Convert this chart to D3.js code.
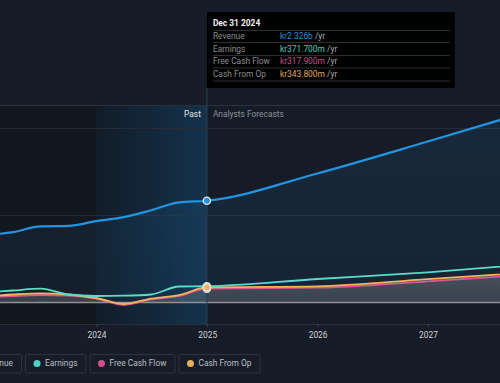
<!DOCTYPE html>
<html><head><meta charset="utf-8">
<script src="https://cdn.jsdelivr.net/npm/d3@7"></script>
<style>html,body{margin:0;padding:0;background:#171d28;}svg{display:block;font-family:Roboto,"Open Sans",sans-serif;}</style>
</head><body>
<svg id="c" width="500" height="383"></svg>
<script>
// ---- data ----
const pastDates = ["2022-12-31","2023-03-31","2023-06-30","2023-09-30","2023-12-31","2024-03-31","2024-06-30","2024-09-30","2024-12-31"];
const forecastDates = ["2024-12-31","2025-12-31","2026-12-31","2027-12-31"];
// revenue in kr billions
const revenuePast = [1.54,1.61,1.74,1.75,1.86,1.95,2.11,2.29,2.326];
const revenueForecast = [2.326,2.95,3.68,4.43];
// kr millions
const earningsPast = [229,274,315,183,149,155,183,366,371.7];
const earningsForecast = [371.7,537,690,887];
const fcfPast = [114,149,171,160,91,-57,69,149,317.9];
const fcfForecast = [317.9,339,485,650];
const cfoPast = [137,183,210,183,103,-34,91,171,343.8];
const cfoForecast = [343.8,368,535,700];
const yTickValues = [0,2,4]; // billions (gridlines)
const xTickYears = [2024,2025,2026,2027];
const legendLabels = ["Revenue","Earnings","Free Cash Flow","Cash From Op"];
const tooltipTitle = "Dec 31 2024";
const tooltipLabels = ["Revenue","Earnings","Free Cash Flow","Cash From Op"];
const tooltipValues = ["kr2.326b","kr371.700m","kr317.900m","kr343.800m"];

const colors = {rev:"#2394df", earn:"#5adccb", fcf:"#d9568f", cfo:"#f0b45c"};
const legendColors = [colors.rev,"#4fd1c5","#d04f8a","#e8b058"];
const FS = 8.4;

const parse = d3.timeParse("%Y-%m-%d");
const svg = d3.select("#c");
const W = 500, H = 383;
const plotTop = 105, plotBottom = 324;

const x = d3.scaleTime().domain([new Date(2024,0,1), new Date(2027,0,1)]).range([96.5, 428]);
const y = d3.scaleLinear().domain([0, 4]).range([302.5, 127.5]); // billions

const xNow = x(parse("2024-12-31"));
const xHi = x(new Date(2024,0,1));

const defs = svg.append("defs");
const hg = defs.append("linearGradient").attr("id","hl").attr("x1",0).attr("x2",1).attr("y1",0).attr("y2",0);
hg.append("stop").attr("offset",0).attr("stop-color","#121c28");
hg.append("stop").attr("offset",1).attr("stop-color","#14324c");
const rg = defs.append("linearGradient").attr("id","revg").attr("x1",0).attr("x2",0).attr("y1",0).attr("y2",1);
rg.append("stop").attr("offset",0).attr("stop-color",colors.rev).attr("stop-opacity",0.11);
rg.append("stop").attr("offset",1).attr("stop-color",colors.rev).attr("stop-opacity",0.06);
const gg = defs.append("linearGradient").attr("id","greyg").attr("x1",0).attr("x2",0).attr("y1",0).attr("y2",1);
gg.append("stop").attr("offset",0).attr("stop-color","#a8a4a6").attr("stop-opacity",0.34);
gg.append("stop").attr("offset",1).attr("stop-color","#a8a4a6").attr("stop-opacity",0.24);

// backgrounds
svg.append("rect").attr("width",W).attr("height",H).attr("fill","#171d28");
svg.append("rect").attr("x",0).attr("y",plotTop).attr("width",xHi).attr("height",plotBottom-plotTop).attr("fill","#13171f");
svg.append("rect").attr("x",xHi).attr("y",plotTop).attr("width",xNow-xHi).attr("height",plotBottom-plotTop).attr("fill","url(#hl)");
svg.append("rect").attr("x",xNow).attr("y",plotTop).attr("width",W-xNow).attr("height",plotBottom-plotTop).attr("fill","#161c27");

// top border + gridlines
svg.append("line").attr("x1",0).attr("x2",W).attr("y1",plotTop+0.5).attr("y2",plotTop+0.5).attr("stroke","#2a313d");
svg.selectAll(".grid").data(yTickValues.filter(v=>v>0)).enter().append("line")
  .attr("x1",0).attr("x2",W).attr("y1",d=>Math.round(y(d))+0.5).attr("y2",d=>Math.round(y(d))+0.5)
  .attr("stroke","#262d39").attr("stroke-width",1);

// series
const mk = (dates, vals, scale) => dates.map((d,i)=>({date:parse(d), v: vals[i]*scale}));
const rev = mk(pastDates, revenuePast, 1).concat(mk(forecastDates, revenueForecast, 1).slice(1));
const earn = mk(pastDates, earningsPast, 0.001).concat(mk(forecastDates, earningsForecast, 0.001).slice(1));
const fcf = mk(pastDates, fcfPast, 0.001).concat(mk(forecastDates, fcfForecast, 0.001).slice(1));
const cfo = mk(pastDates, cfoPast, 0.001).concat(mk(forecastDates, cfoForecast, 0.001).slice(1));

const curve = d3.curveMonotoneX;
const line = d3.line().x(d=>x(d.date)).y(d=>y(d.v)).curve(curve);
const area = d3.area().x(d=>x(d.date)).y0(y(0)).y1(d=>y(d.v)).curve(curve);

svg.append("path").datum(rev).attr("d",area).attr("fill","url(#revg)");
svg.append("path").datum(cfo).attr("d",area).attr("fill","url(#greyg)");

// zero line
svg.append("line").attr("x1",0).attr("x2",W).attr("y1",y(0)).attr("y2",y(0)).attr("stroke","#8e9095").attr("stroke-width",1.6);

svg.append("path").datum(rev).attr("d",line).attr("fill","none").attr("stroke",colors.rev).attr("stroke-width",2.2);
svg.append("path").datum(fcf).attr("d",line).attr("fill","none").attr("stroke",colors.fcf).attr("stroke-width",1.8);
svg.append("path").datum(cfo).attr("d",line).attr("fill","none").attr("stroke",colors.cfo).attr("stroke-width",1.8);
svg.append("path").datum(earn).attr("d",line).attr("fill","none").attr("stroke",colors.earn).attr("stroke-width",1.8);

// vertical "now" line
svg.append("line").attr("x1",xNow).attr("x2",xNow).attr("y1",88).attr("y2",plotBottom).attr("stroke","#2c4055").attr("stroke-width",1);

// markers
const markers = [[rev,colors.rev],[earn,colors.earn],[fcf,colors.fcf],[cfo,colors.cfo]];
markers.forEach(([s,c])=>{
  const p = s[pastDates.length-1];
  svg.append("circle").attr("cx",x(p.date)).attr("cy",y(p.v)).attr("r",3.6)
    .attr("fill",c).attr("stroke","#e6e6e6").attr("stroke-width",1.4);
});

// x axis
svg.append("line").attr("x1",0).attr("x2",W).attr("y1",plotBottom+0.5).attr("y2",plotBottom+0.5).attr("stroke","#2b313c");
const xAxis = d3.axisBottom(x).tickValues(xTickYears.map(yy=>new Date(yy,0,1))).tickSize(3).tickFormat(d3.timeFormat("%Y"));
const ga = svg.append("g").attr("transform",`translate(0,${plotBottom})`).call(xAxis);
ga.select(".domain").remove();
ga.selectAll(".tick line").attr("stroke","#3a414c");
ga.selectAll(".tick text").attr("fill","#d0d3d8").attr("font-size",FS).attr("font-family","Roboto,sans-serif").attr("dy","0.9em");

// Past / forecast labels
svg.append("text").attr("x",xNow-6).attr("y",117).attr("text-anchor","end").attr("font-size",FS).attr("fill","#e2e4e8").text("Past");
svg.append("text").attr("x",xNow+6).attr("y",117).attr("font-size",FS).attr("fill","#8a8f98").text("Analysts Forecasts");

// tooltip
const tt = svg.append("g");
tt.append("rect").attr("x",xNow).attr("y",12).attr("width",248).attr("height",76).attr("fill","#000").attr("opacity",0.96);
tt.append("text").attr("x",xNow+6).attr("y",26).attr("font-size",FS).attr("font-weight","bold").attr("fill","#f2f2f2").text(tooltipTitle);
const rowY = [36,48.6,61.3,74];
const sepY = [30.5,42.5,55.5,68,81];
sepY.forEach(sy=>tt.append("line").attr("x1",xNow+6).attr("x2",xNow+243).attr("y1",sy).attr("y2",sy).attr("stroke","#3a3a3a").attr("stroke-width",0.8));
const valColors = [colors.rev,"#4ecdbb","#c94f8b","#e2a94e"];
tooltipLabels.forEach((l,i)=>{
  tt.append("text").attr("x",xNow+6).attr("y",rowY[i]+3).attr("font-size",FS).attr("fill","#8c8c8c").text(l);
  const t = tt.append("text").attr("x",280).attr("y",rowY[i]+3).attr("font-size",FS);
  t.append("tspan").attr("fill",valColors[i]).text(tooltipValues[i]);
  t.append("tspan").attr("fill","#a8a8a8").text(" /yr");
});

// legend
const lg = svg.append("g");
const items = legendLabels.map((l,i)=>{
  const t = lg.append("text").attr("font-size",FS).attr("fill","#b9bdc4").attr("y",366.3).text(l);
  return {l, t, w: t.node().getComputedTextLength(), c: legendColors[i]};
});
const boxW = it => 12 + 8 + it.w + 9;
const gap = 3;
let starts = [];
starts[1] = 25;
starts[0] = starts[1] - gap - boxW(items[0]);
for (let i=2;i<items.length;i++) starts[i] = starts[i-1] + boxW(items[i-1]) + gap;
items.forEach((it,i)=>{
  const sx = starts[i];
  lg.insert("rect","text").attr("x",sx+0.5).attr("y",354.5).attr("width",boxW(it)-1).attr("height",18.5).attr("rx",2)
    .attr("fill","none").attr("stroke","#2e343e").attr("stroke-width",1);
  lg.append("circle").attr("cx",sx+12).attr("cy",363.5).attr("r",3.5).attr("fill",it.c);
  it.t.attr("x",sx+20);
});
</script>
</body></html>
